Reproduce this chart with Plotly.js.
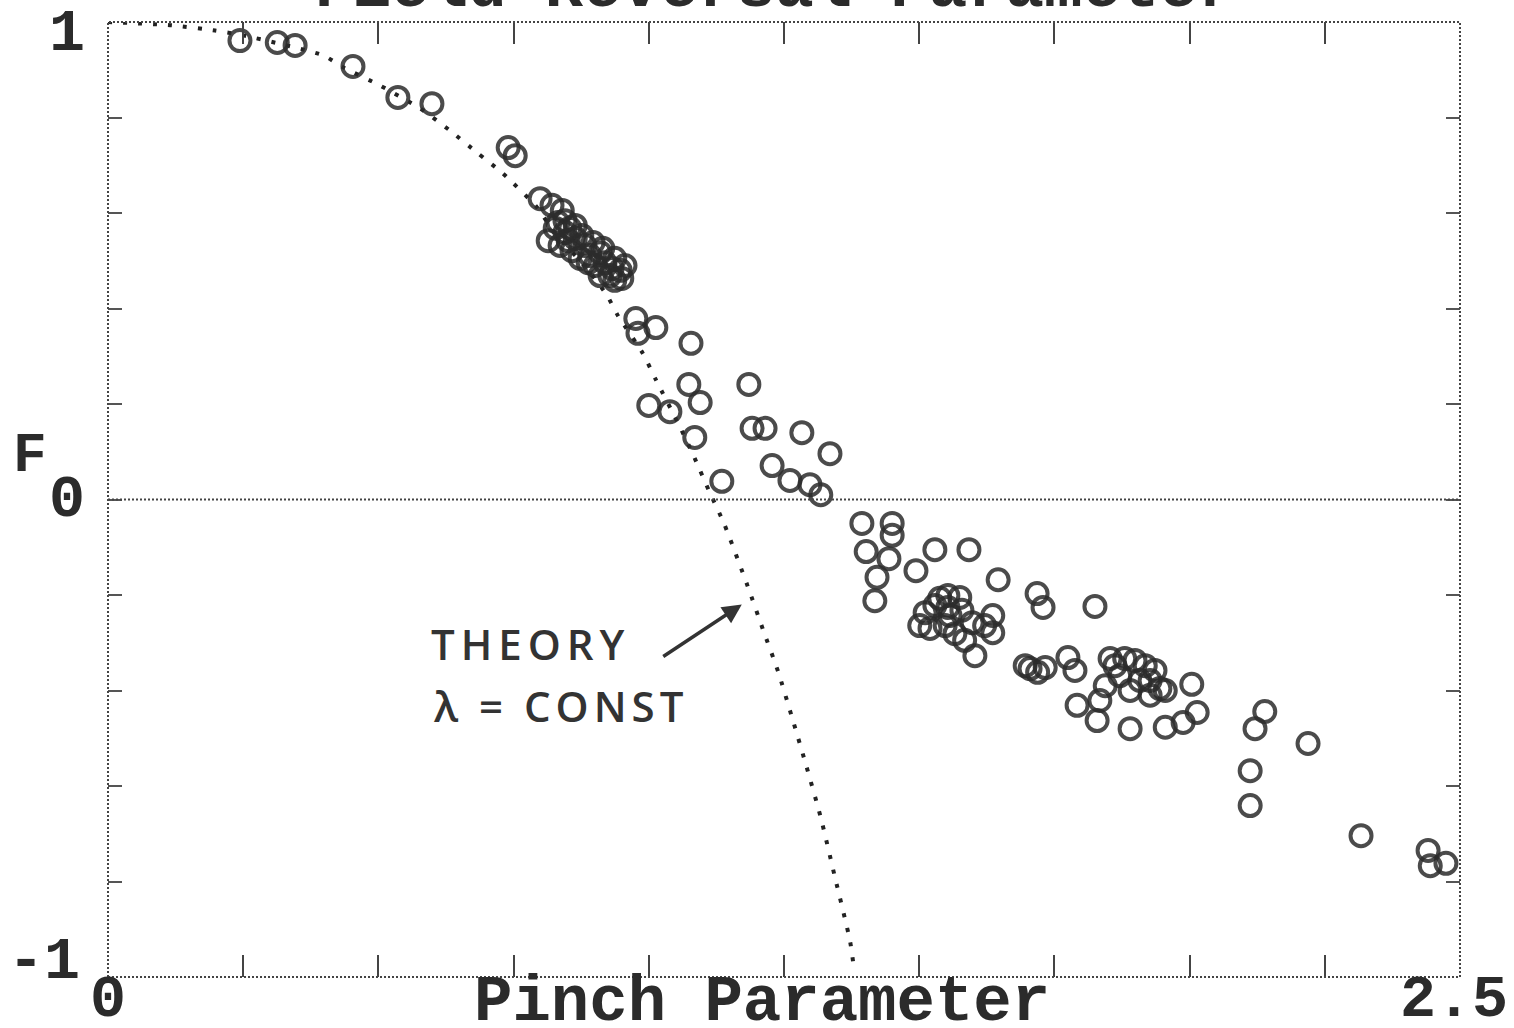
<!DOCTYPE html>
<html>
<head>
<meta charset="utf-8">
<script src="https://cdn.plot.ly/plotly-3.0.1.min.js"></script>
<style>
  html, body { margin: 0; padding: 0; background: #ffffff; }
  #chart { width: 1514px; height: 1028px; }
</style>
</head>
<body>
<div id="chart"></div>
<script>
// Theory curve (lambda = const)
const theoryX = [0.000, 0.118, 0.198, 0.250, 0.398, 0.435, 0.503, 0.577, 0.632, 0.684, 0.730, 0.793, 0.823, 0.888, 0.923, 0.943, 0.989, 1.013, 1.058, 1.085, 1.111, 1.139, 1.183, 1.211, 1.239, 1.265, 1.291, 1.318, 1.344, 1.372, 1.378];
const theoryY = [1.000, 0.993, 0.982, 0.972, 0.930, 0.905, 0.867, 0.819, 0.773, 0.725, 0.683, 0.612, 0.563, 0.480, 0.427, 0.385, 0.306, 0.251, 0.151, 0.086, 0.019, -0.050, -0.182, -0.272, -0.360, -0.457, -0.557, -0.666, -0.790, -0.924, -0.970];

// Measured points: pinch parameter and field reversal parameter F
const pinchX = [
  0.244, 0.313, 0.346, 0.453, 0.536, 0.599, 0.740, 0.753,
  0.799, 0.821, 0.840, 0.845, 0.827, 0.814, 0.845, 0.864, 0.836, 0.858, 0.882, 0.891, 0.873, 0.910, 0.901, 0.919, 0.932, 0.947, 0.928, 0.950,
  0.832, 0.854, 0.876, 0.897, 0.915, 0.937, 0.956, 0.851, 0.888, 0.910, 0.937, 0.864,
  0.976, 1.013, 0.980, 1.078, 1.074, 1.095, 1.185, 1.000, 1.039, 1.085, 1.191, 1.215, 1.283, 1.335, 1.228, 1.261, 1.298, 1.318, 1.135,
  1.394, 1.450, 1.450, 1.402, 1.444, 1.494, 1.529, 1.592, 1.422, 1.418, 1.646, 1.718, 1.729, 1.825,
  1.538, 1.575, 1.511, 1.520, 1.557, 1.566, 1.598, 1.636, 1.636, 1.603, 1.548,
  1.529, 1.553, 1.579, 1.501, 1.584, 1.621, 1.553,
  1.705, 1.733, 1.775, 1.788, 1.853, 1.899, 1.871, 1.908, 1.936, 1.945, 1.890, 1.927, 1.844, 2.004, 1.792, 1.829, 1.890, 1.955, 1.988, 2.014,
  1.862, 1.880, 1.918, 1.927, 1.955, 1.696, 1.719, 1.834,
  2.139, 2.121, 2.219, 2.112, 2.112, 2.317, 2.441, 2.445, 2.474
];
const fieldF = [
  0.961, 0.957, 0.951, 0.907, 0.842, 0.829, 0.737, 0.720,
  0.630, 0.616, 0.605, 0.584, 0.568, 0.542, 0.559, 0.547, 0.532, 0.521, 0.532, 0.511, 0.505, 0.517, 0.490, 0.496, 0.484, 0.480, 0.469, 0.463,
  0.580, 0.568, 0.553, 0.538, 0.526, 0.505, 0.490, 0.542, 0.496, 0.469, 0.459, 0.574,
  0.379, 0.360, 0.348, 0.327, 0.241, 0.203, 0.241, 0.197, 0.184, 0.130, 0.149, 0.149, 0.140, 0.096, 0.071, 0.040, 0.031, 0.010, 0.038,
  -0.050, -0.050, -0.075, -0.109, -0.124, -0.149, -0.105, -0.105, -0.163, -0.212, -0.168, -0.197, -0.226, -0.224,
  -0.207, -0.205, -0.237, -0.270, -0.243, -0.281, -0.258, -0.243, -0.279, -0.327, -0.264,
  -0.222, -0.226, -0.232, -0.264, -0.295, -0.264, -0.201,
  -0.354, -0.352, -0.331, -0.358, -0.333, -0.337, -0.369, -0.379, -0.358, -0.396, -0.400, -0.410, -0.390, -0.387, -0.431, -0.463, -0.480, -0.477, -0.467, -0.446,
  -0.348, -0.333, -0.348, -0.379, -0.400, -0.348, -0.362, -0.421,
  -0.444, -0.480, -0.511, -0.568, -0.641, -0.704, -0.735, -0.767, -0.762
];

// Axis ticks and labels
const xTickVals = [0, 0.25, 0.5, 0.75, 1.0, 1.25, 1.5, 1.75, 2.0, 2.25, 2.5];
const xLabelVals = [0, 2.5];
const xLabelText = ['0', '2.5'];
const yLabelVals = [1, 0, -1];
const yLabelText = ['1', '0', '-1'];

const chartTitle = 'Field Reversal Parameter';
const xTitle = 'Pinch Parameter';
const yTitle = 'F';
const noteTheory = 'THEORY';
const noteLambda = 'λ = CONST';

const ink = '#2b2b2b';
const retro = '"Liberation Mono", "DejaVu Sans Mono", monospace';
const hand = '"Open Sans", "Noto Sans", sans-serif';

const traces = [
  {
    x: theoryX, y: theoryY, type: 'scatter', mode: 'lines',
    line: { color: '#222', width: 4, dash: '4px,11px', shape: 'spline', smoothing: 0.6 },
    hoverinfo: 'skip', showlegend: false, cliponaxis: true
  },
  {
    x: pinchX, y: fieldF, type: 'scatter', mode: 'markers',
    marker: { symbol: 'circle-open', size: 21, color: ink, opacity: 0.85, line: { width: 4, color: ink } },
    showlegend: false
  }
];

// tick labels placed as annotations so they sit where the reference has them
const yLabelAnn = yLabelVals.map((v, i) => ({
  x: v === -1 ? -0.047 : -0.03, xref: 'paper', xanchor: 'center',
  y: v === 1 ? 0.975 : (v === -1 ? -0.968 : v), yref: 'y', yanchor: 'middle',
  text: yLabelText[i], showarrow: false,
  font: { family: retro, size: 60, color: ink, weight: 'bold' }
}));
const xLabelAnn = xLabelVals.map((v, i) => ({
  x: v, xref: 'x', xanchor: v === 0 ? 'center' : 'right', xshift: v === 0 ? 0 : 50,
  y: -0.024, yref: 'paper', yanchor: 'middle',
  text: xLabelText[i], showarrow: false,
  font: { family: retro, size: 60, color: ink, weight: 'bold' }
}));

const layout = {
  width: 1514, height: 1028,
  paper_bgcolor: '#ffffff', plot_bgcolor: '#ffffff',
  margin: { l: 108, r: 54, t: 22, b: 51 },
  showlegend: false,
  title: {
    text: chartTitle, x: 0.512, xanchor: 'center', xref: 'container',
    y: 0.994, yanchor: 'bottom', yref: 'container',
    font: { family: retro, size: 64, color: ink, weight: 'bold' }
  },
  xaxis: {
    range: [0, 2.5], showgrid: false, zeroline: false, showline: false,
    tickvals: xTickVals, showticklabels: false,
    ticks: 'inside', ticklen: 22, tickwidth: 2, tickcolor: '#444', mirror: 'ticks'
  },
  yaxis: {
    range: [-1, 1], showgrid: false, zeroline: false, showline: false,
    tick0: 0, dtick: 0.2, showticklabels: false,
    ticks: 'inside', ticklen: 14, tickwidth: 2, tickcolor: '#555', mirror: 'ticks'
  },
  shapes: [
    { type: 'rect', xref: 'paper', yref: 'paper', x0: 0, x1: 1, y0: 0, y1: 1,
      line: { color: '#444', width: 2, dash: '2px,2px' } },
    { type: 'line', xref: 'paper', yref: 'y', x0: 0, x1: 1, y0: 0, y1: 0,
      line: { color: '#444', width: 2, dash: '2px,2px' } }
  ],
  annotations: yLabelAnn.concat(xLabelAnn).concat([
    { x: 0.484, xref: 'paper', xanchor: 'center', y: -0.027, yref: 'paper', yanchor: 'middle',
      text: xTitle, showarrow: false,
      font: { family: retro, size: 64, color: ink, weight: 'bold' } },
    { x: -0.058, xref: 'paper', xanchor: 'center', y: 0.092, yref: 'y', yanchor: 'middle',
      text: yTitle, showarrow: false,
      font: { family: retro, size: 56, color: ink, weight: 'bold' } },
    { x: 0.782, y: -0.302, xref: 'x', yref: 'y', showarrow: false,
      text: '<span style="letter-spacing:6px">' + noteTheory + '</span>',
      font: { family: hand, size: 42, color: '#333', weight: 600 } },
    { x: 0.836, y: -0.431, xref: 'x', yref: 'y', showarrow: false,
      text: '<span style="letter-spacing:5px">' + noteLambda + '</span>',
      font: { family: hand, size: 42, color: '#333', weight: 600 } },
    { x: 1.172, y: -0.220, xref: 'x', yref: 'y', ax: 1.024, ay: -0.331, axref: 'x', ayref: 'y',
      text: '', showarrow: true, arrowhead: 2, arrowsize: 1.1, arrowwidth: 3.5, arrowcolor: '#333' }
  ])
};

Plotly.newPlot('chart', traces, layout, { displayModeBar: false, responsive: false });
</script>
</body>
</html>
